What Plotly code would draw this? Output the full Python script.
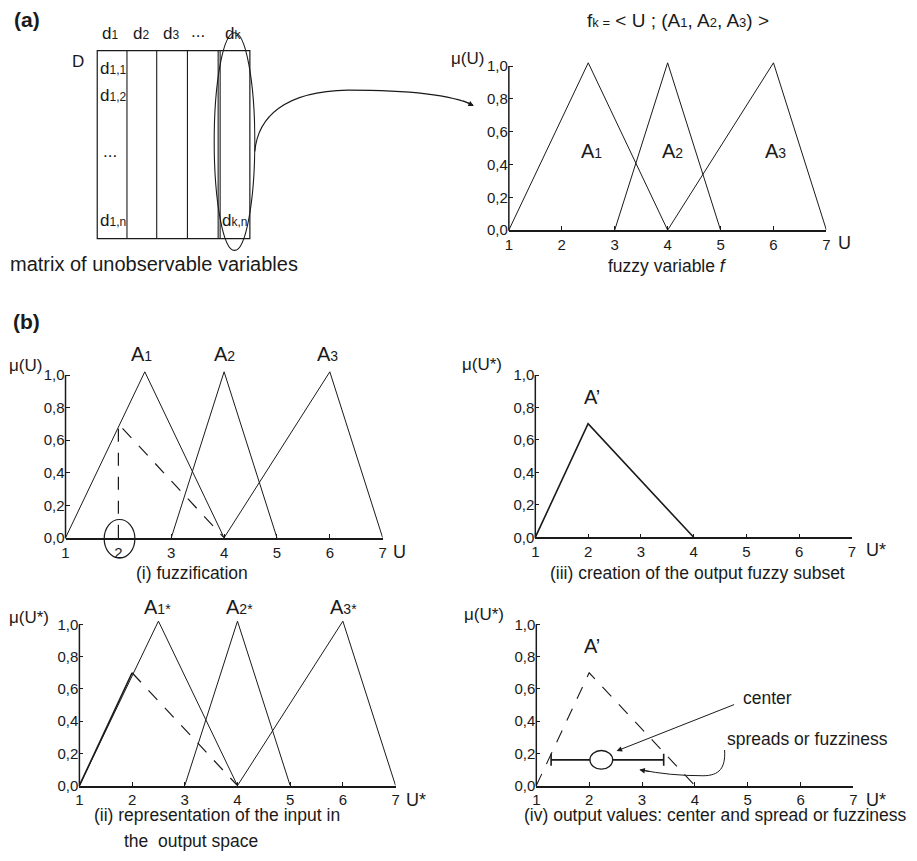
import plotly.graph_objects as go

# The page body adds an 8px margin around the figure; the figure is sized so
# that figure + margins fill the 917x861 window exactly, and reference pixel
# positions are mapped through that offset.
OFF = 8
W, H = 917 - 2 * OFF, 861 - 2 * OFF
FONT = "Liberation Sans, Arial, Helvetica, sans-serif"
INK = "#1a1a1a"

# ---------------- data ----------------
u_ticks = [1, 2, 3, 4, 5, 6, 7]
u_tick_labels = ["1", "2", "3", "4", "5", "6", "7"]
mu_ticks = [0.0, 0.2, 0.4, 0.6, 0.8, 1.0]
mu_tick_labels = ["0,0", "0,2", "0,4", "0,6", "0,8", "1,0"]

A1_x = [1, 2.5, 4]
A1_y = [0, 1.02, 0]
A2_x = [3, 4, 5]
A2_y = [0, 1.02, 0]
A3_x = [4, 6, 7]
A3_y = [0, 1.02, 0]

fuzzify_x = [2, 2, 4]          # vertical drop at input 2, then projection
fuzzify_y = [0, 0.7, 0]
project_x = [2, 4]
project_y = [0.7, 0]
Aprime_x = [1, 2, 4]
Aprime_y = [0, 0.7, 0]

center_x = 2.23
center_y = 0.16
spread_left = 1.28
spread_right = 3.41

# ---------------- helpers ----------------
def px(x):
    return (x - OFF) / W

def py(y):
    return 1 - (y - OFF) / H

# panel pixel frames: x of U=1, x of U=7, y of mu=0, y of mu=1
frames = [
    (509.3, 829.7, 231.5, 65.7),   # (a) fuzzy variable
    (62.0, 382.0, 542.5, 378.0),   # (i)
    (536.0, 855.5, 542.0, 378.0),  # (iii)
    (76.0, 395.0, 793.0, 630.0),   # (ii)
    (537.0, 857.0, 793.0, 630.0),  # (iv)
]
YMAX = 1.045
TICKFONT = dict(family=FONT, size=15, color=INK)

fig = go.Figure()
layout_axes = {}
shapes = []
for i, (x0, x1, yb, yt) in enumerate(frames):
    n = "" if i == 0 else str(i + 1)
    top = yb - (yb - yt) * YMAX
    layout_axes["xaxis" + n] = dict(
        domain=[px(x0), px(x1)], range=[1, 7], anchor="y" + n,
        tickvals=u_ticks, ticktext=u_tick_labels, ticks="inside", ticklen=4,
        tickwidth=1.2, tickcolor=INK, showline=True, linecolor=INK, linewidth=1.5,
        showgrid=False, zeroline=False, fixedrange=True, tickfont=TICKFONT,
    )
    layout_axes["yaxis" + n] = dict(
        domain=[py(yb), py(top)], range=[0, YMAX], anchor="x" + n,
        tickvals=mu_ticks, ticktext=mu_tick_labels, ticks="inside", ticklen=4,
        tickwidth=1.2, tickcolor=INK, showline=False,
        showgrid=False, zeroline=False, fixedrange=True, tickfont=TICKFONT,
    )
    # y axis line from 0 to 1.0 only
    shapes.append(dict(type="line", xref="paper", yref="paper",
                       x0=px(x0), x1=px(x0), y0=py(yb + 0.7), y1=py(yt),
                       line=dict(color=INK, width=1.5)))

def line(xs, ys, axis_i, dash="solid", width=1.0):
    n = "" if axis_i == 0 else str(axis_i + 1)
    fig.add_trace(go.Scatter(x=xs, y=ys, mode="lines", xaxis="x" + n, yaxis="y" + n,
                             line=dict(color=INK, width=width, dash=dash),
                             showlegend=False, hoverinfo="skip"))

DASH = "13px,11px"
# (a)
for xs, ys in [(A1_x, A1_y), (A2_x, A2_y), (A3_x, A3_y)]:
    line(xs, ys, 0)
# (i)
for xs, ys in [(A1_x, A1_y), (A2_x, A2_y), (A3_x, A3_y)]:
    line(xs, ys, 1)
line(fuzzify_x, fuzzify_y, 1, dash=DASH, width=1.2)
# (iii)
line(Aprime_x, Aprime_y, 2, width=1.6)
# (ii)
for xs, ys in [(A1_x, A1_y), (A2_x, A2_y), (A3_x, A3_y)]:
    line(xs, ys, 3)
line(project_x, project_y, 3, dash=DASH, width=1.2)
line(Aprime_x[:2], Aprime_y[:2], 3, width=1.6)
# (iv)
line(Aprime_x, Aprime_y, 4, dash=DASH, width=1.1)
fig.add_trace(go.Scatter(
    x=[center_x], y=[center_y], mode="markers", xaxis="x5", yaxis="y5",
    marker=dict(size=1, color="white"),
    error_x=dict(type="data", symmetric=False,
                 array=[spread_right - center_x], arrayminus=[center_x - spread_left],
                 color=INK, thickness=1.6, width=6),
    showlegend=False, hoverinfo="skip"))
shapes.append(dict(type="circle", xref="x5", yref="y5",
                   x0=center_x - 0.215, x1=center_x + 0.215,
                   y0=center_y - 0.058, y1=center_y + 0.058,
                   fillcolor="white", line=dict(color=INK, width=1.3), layer="above"))

# ---------------- matrix diagram (a) ----------------
shapes.append(dict(type="rect", xref="paper", yref="paper",
                   x0=px(94), x1=px(248), y0=py(240), y1=py(50),
                   line=dict(color=INK, width=1.2)))
for cx in [124, 154, 185, 216, 218]:
    shapes.append(dict(type="line", xref="paper", yref="paper",
                       x0=px(cx), x1=px(cx), y0=py(240), y1=py(50),
                       line=dict(color=INK, width=1.1)))
shapes.append(dict(type="circle", xref="paper", yref="paper",
                   x0=px(212), x1=px(253), y0=py(252), y1=py(32),
                   line=dict(color=INK, width=1.1)))

def path(pts_cmds):
    out = []
    for cmd, pts in pts_cmds:
        coords = " ".join(f"{px(a):.5f},{py(b):.5f}" for a, b in pts)
        out.append(f"{cmd} {coords}")
    return " ".join(out)

# curved connector from ellipse to chart
shapes.append(dict(type="path", xref="paper", yref="paper",
                   path=path([("M", [(253, 152)]),
                              ("C", [(256, 118), (282, 91), (347, 90)]),
                              ("C", [(410, 90), (452, 95), (473, 105)])]),
                   line=dict(color=INK, width=1.1)))
# circle around input value in (i)
shapes.append(dict(type="circle", xref="paper", yref="paper",
                   x0=px(101), x1=px(132), y0=py(563), y1=py(524),
                   line=dict(color=INK, width=1.2)))
# spread curved arrow in (iv)
shapes.append(dict(type="path", xref="paper", yref="paper",
                   path=path([("M", [(727, 757)]),
                              ("C", [(728, 775), (722, 783), (705, 783)]),
                              ("C", [(682, 783), (662, 781), (642, 777)])]),
                   line=dict(color=INK, width=1.0)))

# ---------------- text ----------------
ann = []
def txt(x, y, text, size=14, xanchor="center", yanchor="middle"):
    ann.append(dict(x=px(x), y=py(y), xref="paper", yref="paper", text=text,
                    showarrow=False, xanchor=xanchor, yanchor=yanchor,
                    font=dict(family=FONT, size=size, color=INK)))

def sub(s, size=12):
    return f"<span style='font-size:{size}px'>{s}</span>"

def arrow(x, y, ax, ay, size=1.0):
    ann.append(dict(x=px(x), y=py(y), xref="paper", yref="paper", text="",
                    showarrow=True, ax=ax, ay=ay, arrowhead=2, arrowsize=size,
                    arrowwidth=1.0, arrowcolor=INK))

CAP = 17.5
txt(23, 19, "<b>(a)</b>", size=21)
txt(23, 324, "<b>(b)</b>", size=21)

# matrix labels
txt(107, 33, "d" + sub("1"), 17)
txt(138, 33, "d" + sub("2"), 17)
txt(168, 33, "d" + sub("3"), 17)
txt(196, 31, "...", 17)
txt(231, 33, "d" + sub("k"), 17)
txt(75, 61, "D", 17)
txt(110, 68, "d" + sub("1,1"), 17)
txt(110, 95, "d" + sub("1,2"), 17)
txt(107, 152, "...", 17)
txt(110, 222, "d" + sub("1,n"), 17)
txt(232, 222, "d" + sub("k,n"), 17)
txt(151, 266, "matrix of unobservable variables", 20)

# (a) chart text
txt(680, 20, "f" + sub("k =", 13) + " &lt; U ; (A" + sub("1", 13) + ", A" + sub("2", 13)
    + ", A" + sub("3", 13) + ") &gt;", 19)
txt(486, 58, "μ(U)", 17, xanchor="right")
txt(593, 152, "A" + sub("1", 14), 20)
txt(674, 152, "A" + sub("2", 14), 20)
txt(778, 152, "A" + sub("3", 14), 20)
txt(848, 245, "U", 18)
txt(669, 268, "fuzzy variable <i>f</i>", CAP)
arrow(474, 106, -12, -6, 1.1)

# (i)
txt(3, 368, "μ(U)", 17, xanchor="left")
txt(139, 357, "A" + sub("1", 14), 20)
txt(222, 357, "A" + sub("2", 14), 20)
txt(326, 357, "A" + sub("3", 14), 20)
txt(399, 557, "U", 18)
txt(190, 578, "(i) fuzzification", CAP)

# (iii)
txt(504, 367, "μ(U*)", 17, xanchor="right")
txt(593, 400, "A’", 20)
txt(880, 555, "U*", 18)
txt(700, 578, "(iii) creation of the output fuzzy subset", CAP)

# (ii)
txt(3, 623, "μ(U*)", 17, xanchor="left")
txt(155, 612, "A" + sub("1*", 14), 20)
txt(238, 612, "A" + sub("2*", 14), 20)
txt(342, 612, "A" + sub("3*", 14), 20)
txt(416, 808, "U*", 18)
txt(215, 823, "(ii) representation of the input in", CAP)
txt(189, 849, "the  output space", CAP)

# (iv)
txt(506, 620, "μ(U*)", 17, xanchor="right")
txt(593, 652, "A’", 20)
txt(770, 704, "center", CAP)
arrow(618, 758, 119, -47, 1.1)
txt(811, 746, "spreads or fuzziness", CAP)
arrow(641, 777, 12, 2, 1.1)
txt(880, 808, "U*", 18)
txt(718, 823, "(iv) output values: center and spread or fuzziness", CAP)

fig.update_layout(
    width=W, height=H, margin=dict(l=0, r=0, t=0, b=0),
    paper_bgcolor="white", plot_bgcolor="white",
    showlegend=False, shapes=shapes, annotations=ann,
    font=dict(family=FONT, color=INK),
    **layout_axes,
)
fig.write_html("out.html")
